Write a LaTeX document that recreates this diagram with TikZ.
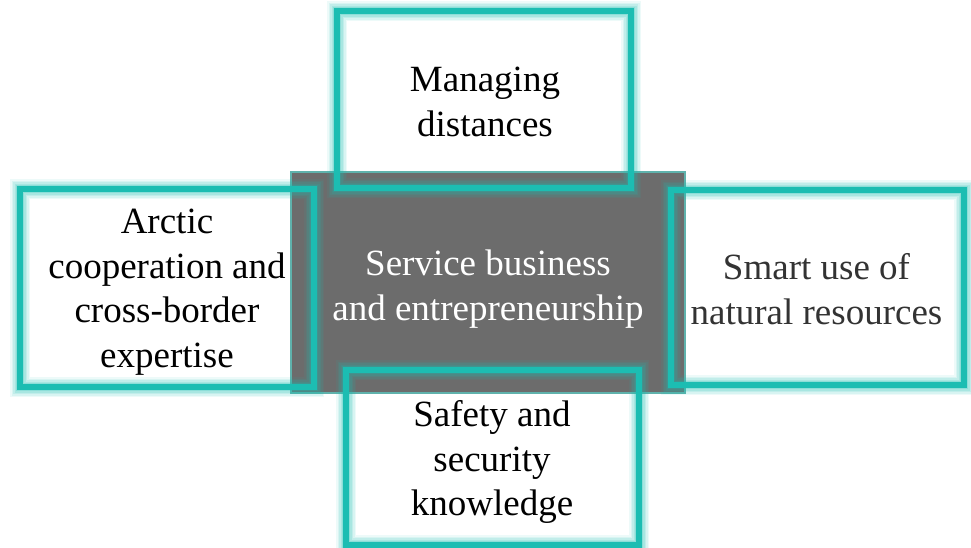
\documentclass[tikz,border=0pt]{standalone}
\usepackage{fontspec}
\setmainfont{Liberation Serif}
\definecolor{boxteal}{RGB}{28,189,178}
\definecolor{centergray}{RGB}{108,108,108}
\definecolor{grayedge}{RGB}{95,178,172}
\tikzset{
  outerbox/.style={draw=boxteal, line width=6pt, fill=none, inner sep=0pt,
    preaction={draw=boxteal, line width=20pt, draw opacity=0.08},
    preaction={draw=boxteal, line width=17pt, draw opacity=0.10},
    preaction={draw=boxteal, line width=14pt, draw opacity=0.12},
    preaction={draw=boxteal, line width=11pt, draw opacity=0.15},
    preaction={draw=boxteal, line width=8.5pt, draw opacity=0.2}},
  centerbox/.style={draw=grayedge, line width=2pt, fill=centergray, inner sep=0pt},
  boxtext/.style={font=\fontsize{37}{44.5}\selectfont, align=center, inner sep=0pt, anchor=north},
}
\begin{document}
\begin{tikzpicture}[x=1pt,y=-1pt]
\useasboundingbox (0,0) rectangle (971,547);
\begin{scope}
\clip (0,0) rectangle (971,547);
% central rectangle
\node[centerbox, minimum width=394pt, minimum height=221pt] (center) at (488,282.5) {};
% outer boxes
\node[outerbox, minimum width=294pt, minimum height=177pt] (top) at (484,99.5) {};
\node[outerbox, minimum width=294pt, minimum height=198pt] (left) at (167,288) {};
\node[outerbox, minimum width=293pt, minimum height=195pt] (right) at (817.5,287.5) {};
\node[outerbox, minimum width=293pt, minimum height=175pt] (bottom) at (492.5,457.5) {};
\end{scope}
% texts
\node[boxtext, text=white] (centertext) at (488,244.2) {\strut Service business\\and entrepreneurship};
\node[boxtext, text=black] (toptext) at (485,60.2) {\strut Managing\\distances};
\node[boxtext, text=black] (lefttext) at (167,202.2) {\strut Arctic\\cooperation and\\cross-border\\expertise};
\node[boxtext, text=black!80] (righttext) at (816.5,248.2) {\strut Smart use of\\natural resources};
\node[boxtext, text=black] (bottomtext) at (492,395.2) {\strut Safety and\\security\\knowledge};
\end{tikzpicture}
\end{document}
